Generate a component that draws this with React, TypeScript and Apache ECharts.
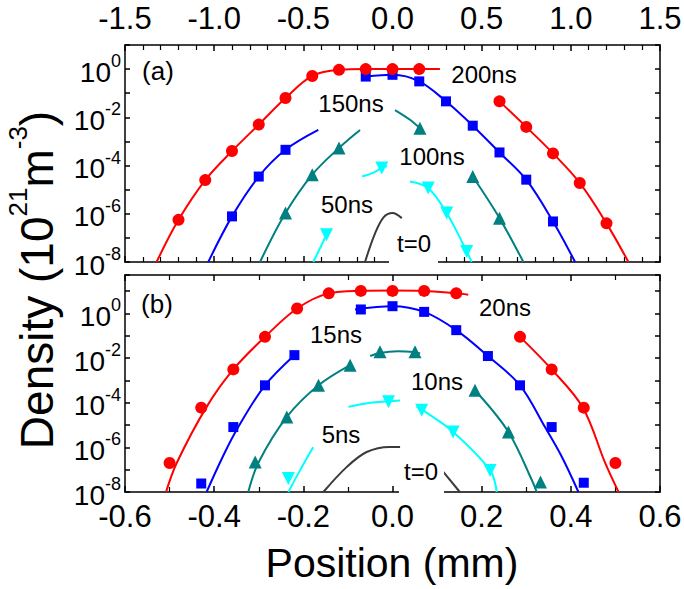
import React, { useEffect, useRef } from 'react';
import * as echarts from 'echarts';

type Pt = [number, number];

// ---------- Panel (a): positions in mm (top axis), densities in 10^21 m^-3 ----------
const a200Left: Pt[] = [[-1.323, 1e-8], [-1.2, 5.6e-7], [-1.05, 2.5e-5], [-0.9, 4.0e-4], [-0.75, 5.0e-3], [-0.6, 6.3e-2], [-0.45, 0.52], [-0.3, 0.93], [-0.15, 1.0], [0, 1.0], [0.15, 1.0], [0.266, 1.0]];
const a200Right: Pt[] = [[0.6, 4.6e-2], [0.75, 4.0e-3], [0.9, 3.2e-4], [1.05, 1.9e-5], [1.2, 4.0e-7], [1.323, 1e-8]];
const a200Marks: Pt[] = [[-1.2, 5.6e-7], [-1.05, 2.5e-5], [-0.9, 4.0e-4], [-0.75, 5.0e-3], [-0.6, 6.3e-2], [-0.45, 0.52], [-0.3, 0.93], [-0.15, 1.0], [0, 1.0], [0.15, 1.0], [0.6, 4.6e-2], [0.75, 4.0e-3], [0.9, 3.2e-4], [1.05, 1.9e-5], [1.2, 4.0e-7]];

const a150Left: Pt[] = [[-1.033, 1e-8], [-0.9, 7.8e-7], [-0.75, 3.5e-5], [-0.6, 4.5e-4], [-0.416, 3.0e-3]];
const a150Right: Pt[] = [[-0.15, 0.49], [0, 0.58], [0.15, 0.31], [0.3, 4.6e-2], [0.45, 4.5e-3], [0.6, 3.5e-4], [0.75, 2.6e-5], [0.9, 4.8e-7], [1.024, 1e-8]];
const a150Marks: Pt[] = [[-0.9, 7.8e-7], [-0.75, 3.5e-5], [-0.6, 4.5e-4], [-0.15, 0.49], [0, 0.58], [0.15, 0.31], [0.3, 4.6e-2], [0.45, 4.5e-3], [0.6, 3.5e-4], [0.75, 2.6e-5], [0.9, 4.8e-7]];

const a100Left: Pt[] = [[-0.743, 1e-8], [-0.6, 1.07e-6], [-0.45, 4.2e-5], [-0.3, 5.4e-4], [-0.182, 3.0e-3]];
const a100Mid: Pt[] = [[0.014, 2.0e-2], [0.098, 7.9e-3], [0.154, 3.5e-3]];
const a100Right: Pt[] = [[0.45, 3.5e-5], [0.6, 6.6e-7], [0.734, 1e-8]];
const a100Marks: Pt[] = [[-0.6, 1.07e-6], [-0.45, 4.2e-5], [-0.3, 5.4e-4], [0.154, 3.5e-3], [0.45, 3.5e-5], [0.6, 6.6e-7]];

const a50Left: Pt[] = [[-0.444, 1e-8], [-0.37, 1.35e-7]];
const a50Mid: Pt[] = [[-0.17, 3.5e-5], [-0.11, 5.0e-5], [-0.06, 7.9e-5], [-0.03, 9.5e-5]];
const a50Right: Pt[] = [[0.098, 2.2e-5], [0.2, 1.17e-5], [0.304, 1.07e-6], [0.416, 2.75e-8], [0.444, 1e-8]];
const a50Marks: Pt[] = [[-0.37, 1.35e-7], [-0.06, 7.9e-5], [0.2, 1.17e-5], [0.304, 1.07e-6], [0.416, 2.75e-8]];

const a0Curve: Pt[] = [[-0.154, 1e-8], [-0.1, 1.4e-7], [-0.05, 7.1e-7], [0, 1.07e-6], [0.052, 6.6e-7]];

// ---------- Panel (b): positions in mm (bottom axis) ----------
const b20Left: Pt[] = [[-0.508, 1e-8], [-0.484, 2.0e-7], [-0.417, 6.5e-5], [-0.357, 3.1e-3], [-0.286, 8.9e-2], [-0.214, 1.66], [-0.143, 7.9], [-0.071, 10.2], [0, 10.5], [0.071, 10.2], [0.143, 7.9], [0.17, 6.9]];
const b20Right: Pt[] = [[0.286, 8.9e-2], [0.357, 3.1e-3], [0.427, 6.0e-5], [0.477, 2.0e-7], [0.507, 1e-8]];
const b20Marks: Pt[] = [[-0.5, 2.0e-7], [-0.429, 6.0e-5], [-0.357, 3.1e-3], [-0.286, 8.9e-2], [-0.214, 1.66], [-0.143, 7.9], [-0.071, 10.2], [0, 10.2], [0.071, 10.2], [0.143, 7.9], [0.286, 8.9e-2], [0.357, 3.1e-3], [0.429, 6.0e-5], [0.5, 2.0e-7]];

const b15Left: Pt[] = [[-0.417, 1e-8], [-0.381, 3.7e-7], [-0.346, 8.1e-6], [-0.286, 6.0e-4], [-0.22, 1.35e-2]];
const b15Right: Pt[] = [[-0.084, 1.5], [0, 2.1], [0.071, 1.17], [0.143, 0.178], [0.214, 1.23e-2], [0.286, 6.0e-4], [0.342, 8.1e-6], [0.38, 3.7e-7], [0.417, 1e-8]];
const b15Marks: Pt[] = [[-0.429, 2.4e-8], [-0.357, 8.1e-6], [-0.286, 6.0e-4], [-0.22, 1.35e-2], [-0.071, 1.5], [0, 2.1], [0.071, 1.17], [0.143, 0.178], [0.214, 1.23e-2], [0.286, 6.0e-4], [0.357, 8.1e-6], [0.429, 2.6e-8]];

const b10Left: Pt[] = [[-0.3235, 1e-8], [-0.3, 2.2e-7], [-0.237, 2.3e-5], [-0.166, 6.0e-4], [-0.095, 4.8e-3]];
const b10Mid: Pt[] = [[-0.05, 1.23e-2], [-0.028, 1.7e-2], [0.012, 2.0e-2], [0.0505, 1.8e-2], [0.062, 1.6e-2]];
const b10Right: Pt[] = [[0.185, 3.6e-4], [0.26, 4.9e-6], [0.3145, 2.8e-8], [0.3234, 1e-8]];
const b10Marks: Pt[] = [[-0.308, 2.2e-7], [-0.237, 2.3e-5], [-0.166, 6.0e-4], [-0.095, 4.8e-3], [-0.028, 1.9e-2], [0.0505, 1.9e-2], [0.185, 3.6e-4], [0.26, 4.9e-6], [0.332, 2.8e-8]];

const b5Left: Pt[] = [[-0.2337, 1e-8], [-0.2075, 9.3e-8], [-0.178, 1.0e-6]];
const b5Mid: Pt[] = [[-0.099, 6.5e-5], [-0.05, 1.0e-4], [-0.009, 1.15e-4], [0.017, 1.26e-4]];
const b5Right: Pt[] = [[0.054, 6.5e-5], [0.0655, 5.0e-5], [0.136, 4.9e-6], [0.219, 9.3e-8], [0.2337, 1e-8]];
const b5Marks: Pt[] = [[-0.2337, 4.0e-8], [-0.009, 1.1e-4], [0.0655, 4.6e-5], [0.136, 4.9e-6], [0.219, 9.3e-8]];

const b0Left: Pt[] = [[-0.155, 1e-8], [-0.103, 1.3e-7], [-0.058, 6.2e-7], [-0.006, 1.05e-6], [0.017, 1.05e-6]];
const b0Right: Pt[] = [[0.114, 7.9e-8], [0.151, 1e-8]];

// Axis ranges / ticks
const aXRange: [number, number] = [-1.5, 1.5];
const bXRange: [number, number] = [-0.6, 0.6];
const aLogRange: [number, number] = [-8, 1];
const bLogRange: [number, number] = [-8, 1.72];

const RED = '#ff0000';
const BLUE = '#0000ff';
const TEAL = '#008080';
const CYAN = '#00ffff';
const DARK = '#3a3a3a';
const FONT = '"Liberation Sans", Arial, Helvetica, sans-serif';

const toLog = (pts: Pt[]) => pts.map(([x, d]) => [x, Math.log10(d)]);

function curve(pts: Pt[], color: string, xi: number, yi: number) {
  return {
    type: 'line', xAxisIndex: xi, yAxisIndex: yi, data: toLog(pts),
    showSymbol: false, symbol: 'none', smooth: 0.35,
    lineStyle: { color, width: 2 }, itemStyle: { color }, silent: true, z: 2,
  };
}
function marks(pts: Pt[], color: string, symbol: string, size: number, rotate: number, xi: number, yi: number) {
  return {
    type: 'scatter', xAxisIndex: xi, yAxisIndex: yi, data: toLog(pts),
    symbol, symbolSize: size, symbolRotate: rotate,
    itemStyle: { color, opacity: 1 }, silent: true, z: 3,
  };
}

const blackLine = { color: '#000', width: 1.5 };
const X_LABEL_SIZE = 31;

function xAxis(grid: number, pos: string, range: [number, number], interval: number, minorSplit: number, labels: boolean, margin: number) {
  return {
    type: 'value', gridIndex: grid, position: pos, min: range[0], max: range[1], interval,
    axisLine: { show: true, onZero: false, lineStyle: blackLine },
    axisTick: { show: true, inside: true, length: 6, lineStyle: blackLine },
    minorTick: { show: true, splitNumber: minorSplit, length: 5, lineStyle: { color: '#000', width: 1.2 } },
    splitLine: { show: false }, minorSplitLine: { show: false },
    axisLabel: {
      show: labels, fontSize: X_LABEL_SIZE, fontFamily: FONT, color: '#000', margin,
      formatter: (v: number) => (Math.abs(v) < 1e-9 ? '0.0' : v.toFixed(1)),
    },
  };
}
function yAxis(grid: number, pos: string, range: [number, number], labels: boolean) {
  return {
    type: 'value', gridIndex: grid, position: pos, min: range[0], max: range[1], interval: 1,
    axisLine: { show: true, onZero: false, lineStyle: blackLine },
    axisTick: { show: true, inside: true, length: 5, lineStyle: blackLine },
    splitLine: { show: false },
    axisLabel: {
      show: labels, margin: 4, color: '#000', fontFamily: FONT, fontSize: 28,
      formatter: (v: number) => {
        const r = Math.round(v);
        if (Math.abs(v - r) > 1e-6 || r % 2 !== 0) return '';
        return `{n|10}{s|${r}}`;
      },
      rich: {
        n: { fontSize: 28, fontFamily: FONT, color: '#000', padding: [6, 0, 0, 0], verticalAlign: 'bottom' },
        s: { fontSize: 18, fontFamily: FONT, color: '#000', verticalAlign: 'top' },
      },
    },
  };
}

function label(text: string, x: number, y: number, size: number) {
  return {
    type: 'text', x, y, z: 100, silent: true,
    style: { text, fontSize: size, fontFamily: FONT, fill: '#000', align: 'center', verticalAlign: 'middle' },
  };
}
function whiteBox(x: number, y: number, w: number, h: number) {
  return { type: 'rect', z: 90, silent: true, shape: { x, y, width: w, height: h }, style: { fill: '#fff' } };
}

export default function App() {
  const ref = useRef<HTMLDivElement>(null);
  useEffect(() => {
    document.body.style.margin = '0';
    const chart = echarts.init(ref.current!, null, { renderer: 'svg' });
    const option: any = {
      animation: false,
      backgroundColor: '#fff',
      textStyle: { fontFamily: FONT },
      grid: [
        { left: 125, top: 45, width: 535, height: 217, containLabel: false, outerBoundsMode: 'none' },
        { left: 125, top: 275, width: 535, height: 217, containLabel: false, outerBoundsMode: 'none' },
      ],
      xAxis: [
        xAxis(0, 'top', aXRange, 0.5, 5, true, 11),
        xAxis(0, 'bottom', aXRange, 0.5, 5, false, 8),
        xAxis(1, 'bottom', bXRange, 0.2, 2, true, 9),
        xAxis(1, 'top', bXRange, 0.2, 2, false, 8),
      ],
      yAxis: [
        yAxis(0, 'left', aLogRange, true),
        yAxis(0, 'right', aLogRange, false),
        yAxis(1, 'left', bLogRange, true),
        yAxis(1, 'right', bLogRange, false),
      ],
      series: [
        curve(a0Curve, DARK, 0, 0),
        curve(a50Left, CYAN, 0, 0), curve(a50Mid, CYAN, 0, 0), curve(a50Right, CYAN, 0, 0),
        curve(a100Left, TEAL, 0, 0), curve(a100Mid, TEAL, 0, 0), curve(a100Right, TEAL, 0, 0),
        curve(a150Left, BLUE, 0, 0), curve(a150Right, BLUE, 0, 0),
        curve(a200Left, RED, 0, 0), curve(a200Right, RED, 0, 0),
        marks(a50Marks, CYAN, 'triangle', 13, 180, 0, 0),
        marks(a100Marks, TEAL, 'triangle', 13, 0, 0, 0),
        marks(a150Marks, BLUE, 'rect', 10, 0, 0, 0),
        marks(a200Marks, RED, 'circle', 12, 0, 0, 0),

        curve(b0Left, DARK, 2, 2), curve(b0Right, DARK, 2, 2),
        curve(b5Left, CYAN, 2, 2), curve(b5Mid, CYAN, 2, 2), curve(b5Right, CYAN, 2, 2),
        curve(b10Left, TEAL, 2, 2), curve(b10Mid, TEAL, 2, 2), curve(b10Right, TEAL, 2, 2),
        curve(b15Left, BLUE, 2, 2), curve(b15Right, BLUE, 2, 2),
        curve(b20Left, RED, 2, 2), curve(b20Right, RED, 2, 2),
        marks(b5Marks, CYAN, 'triangle', 13, 180, 2, 2),
        marks(b10Marks, TEAL, 'triangle', 13, 0, 2, 2),
        marks(b15Marks, BLUE, 'rect', 10, 0, 2, 2),
        marks(b20Marks, RED, 'circle', 12, 0, 2, 2),
      ],
      graphic: {
        elements: [
          whiteBox(389, 228, 49, 38),
          whiteBox(399, 459, 45, 37),
          label('(a)', 158, 71, 26),
          label('200ns', 484, 74, 24),
          label('150ns', 351, 103, 24),
          label('100ns', 432, 156, 24),
          label('50ns', 347, 204, 24),
          label('t=0', 414, 243, 24),
          label('(b)', 157, 304, 26),
          label('20ns', 505, 307, 24),
          label('15ns', 336, 334, 24),
          label('10ns', 437, 381, 24),
          label('5ns', 341, 434, 24),
          label('t=0', 421, 471, 24),
          label('Position (mm)', 392, 563, 41),
          {
            type: 'text', x: 32, y: 280, rotation: Math.PI / 2, z: 100, silent: true,
            style: {
              text: '{m|Density (10}{s|21}{m|m}{s|-3}{m|)}',
              align: 'center', verticalAlign: 'middle', fill: '#000',
              rich: {
                m: { fontSize: 46, fontFamily: FONT, fill: '#000', padding: [9, 0, 0, 0], verticalAlign: 'bottom' },
                s: { fontSize: 26, fontFamily: FONT, fill: '#000', verticalAlign: 'top' },
              },
            },
          },
        ],
      },
    };
    chart.setOption(option);
    return () => chart.dispose();
  }, []);
  return <div ref={ref} style={{ position: 'fixed', left: 0, top: 0, width: 684, height: 589 }} />;
}
